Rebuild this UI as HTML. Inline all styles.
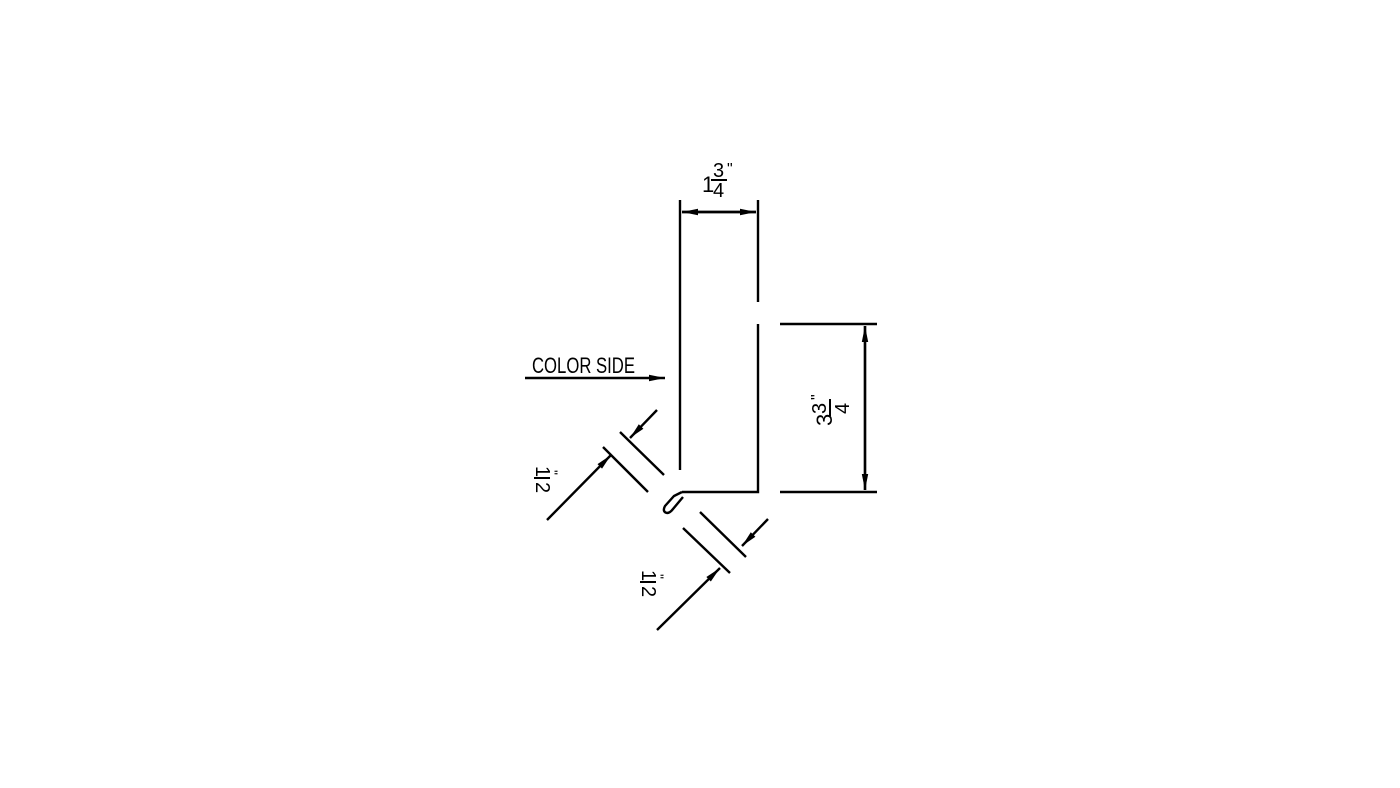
<!DOCTYPE html>
<html><head><style>html,body{margin:0;padding:0;background:#fff;}svg{display:block}</style></head>
<body>
<svg width="1400" height="788" viewBox="0 0 1400 788" xmlns="http://www.w3.org/2000/svg">
<defs>
<marker id="a" viewBox="0 0 10 4" refX="10" refY="2" markerWidth="16" markerHeight="7" markerUnits="userSpaceOnUse" orient="auto"><path d="M0,0 L10,2 L0,4 z" fill="#000"/></marker>
</defs>
<g stroke="#000" stroke-width="2.4" fill="none">
<line x1="680" y1="200" x2="680" y2="470"/>
<line x1="758" y1="200" x2="758" y2="302"/>
<polyline points="758,324 758,492 682,492"/>
<path d="M682,492 L674,496 L665,506 Q662,512 667,513 Q670,513 673,509 L683,497"/>
<line x1="682" y1="212" x2="756" y2="212" marker-end="url(#a)"/>
<line x1="756" y1="212" x2="682" y2="212" marker-end="url(#a)"/>
<line x1="780" y1="324" x2="877" y2="324"/>
<line x1="780" y1="492" x2="877" y2="492"/>
<line x1="865" y1="326" x2="865" y2="490" marker-end="url(#a)"/>
<line x1="865" y1="490" x2="865" y2="326" marker-end="url(#a)"/>
<line x1="525" y1="378" x2="665" y2="378" marker-end="url(#a)"/>
<line x1="603" y1="447" x2="648" y2="492"/>
<line x1="620" y1="432" x2="664" y2="475"/>
<line x1="547" y1="520" x2="611" y2="455" marker-end="url(#a)"/>
<line x1="657" y1="410" x2="630" y2="438" marker-end="url(#a)"/>
<line x1="683" y1="528" x2="730" y2="573"/>
<line x1="700" y1="512" x2="746" y2="557"/>
<line x1="657" y1="630" x2="720" y2="568" marker-end="url(#a)"/>
<line x1="768" y1="519" x2="742" y2="546" marker-end="url(#a)"/>
</g>
<g font-family="Liberation Sans Narrow, Liberation Sans, sans-serif" fill="#000">
<text x="532" y="373" font-size="22" textLength="103" lengthAdjust="spacingAndGlyphs">COLOR SIDE</text>
<text x="702" y="192" font-size="22">1</text>
<text x="713" y="177" font-size="20">3</text>
<line x1="711" y1="180" x2="727" y2="180" stroke="#000" stroke-width="2"/>
<text x="713" y="197" font-size="20">4</text>
<text x="727" y="174" font-size="16">"</text>
<g transform="translate(832,410) rotate(-90)">
<text x="-16" y="0" font-size="22">3</text>
<text x="-4" y="-6" font-size="20">3</text>
<line x1="-6" y1="-2" x2="11" y2="-2" stroke="#000" stroke-width="2"/>
<text x="-4" y="17" font-size="20">4</text>
<text x="10" y="-10" font-size="16">"</text>
</g>
<g transform="translate(542,482) rotate(90)">
<text x="-16" y="6" font-size="20">1</text>
<line x1="-4" y1="-8" x2="-4" y2="8" stroke="#000" stroke-width="2"/>
<text x="0" y="6" font-size="20">2</text>
<text x="-12" y="-6" font-size="14">"</text>
</g>
<g transform="translate(648,586) rotate(90)">
<text x="-16" y="6" font-size="20">1</text>
<line x1="-4" y1="-8" x2="-4" y2="8" stroke="#000" stroke-width="2"/>
<text x="0" y="6" font-size="20">2</text>
<text x="-12" y="-6" font-size="14">"</text>
</g>
</g>
</svg>
</body></html>
